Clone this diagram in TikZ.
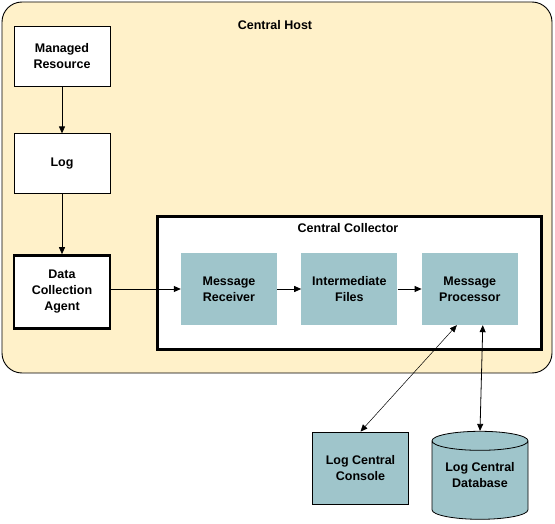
\documentclass[tikz,border=0pt]{standalone}
\usepackage{fontspec}
\setmainfont{Liberation Sans}
\usetikzlibrary{positioning,arrows.meta,shapes.geometric}
\definecolor{hostcol}{RGB}{255,241,201}
\definecolor{proccol}{RGB}{159,197,203}

\begin{document}
\begin{tikzpicture}[x=1pt, y=1pt,
  every node/.style={font=\bfseries\fontsize{12.5}{16}\selectfont, align=center},
  host/.style={rectangle, draw=black, fill=hostcol, rounded corners=20pt,
               minimum width=550pt, minimum height=371pt, line width=0.9pt},
  frame/.style={rectangle, draw=black, fill=white, line width=3pt,
                minimum width=384pt, minimum height=132pt},
  plain/.style={rectangle, draw=black, fill=white, line width=0.8pt,
                minimum width=96pt, minimum height=60pt},
  agent/.style={plain, line width=2.6pt, minimum height=73pt},
  proc/.style={rectangle, fill=proccol, minimum width=96pt, minimum height=72pt},
  outproc/.style={proc, draw=black, line width=0.8pt},
  store/.style={cylinder, shape border rotate=90, aspect=0.25, draw=black,
                fill=proccol, line width=0.8pt, minimum width=96pt, minimum height=88pt},
  ea/.style={-{Triangle[length=7pt,width=6pt]}, line width=0.8pt},
  eb/.style={{Triangle[length=7pt,width=6pt]}-{Triangle[length=7pt,width=6pt]}, line width=#1},
  eb/.default=0.8pt
]
\useasboundingbox (0,0) rectangle (555,-524);

% containers
\node[host] (host) at (277,-187.5) {};
\node[anchor=center] (hostlbl) at (275,-25) {Central Host};
\node[frame] (coll) at (349,-283) {};
\node (colllbl) at (348,-228) {Central Collector};

% left column
\node[plain] (res) at (62,-56) {Managed\\Resource};
\node[plain, below=47pt of res] (log) {Log};
\node[agent, below=60pt of log] (agent) {Data\\Collection\\Agent};

% collector boxes
\node[proc] (recv) at (229,-289) {Message\\Receiver};
\node[proc, right=24pt of recv] (files) {Intermediate\\Files};
\node[proc, right=24pt of files] (msgproc) {Message\\Processor};

% outside
\node[outproc] (console) at (360.5,-468) {Log Central\\Console};
\node[store] (db) at (480,-482)
  {\raisebox{6pt}[\height][\depth]{\begin{tabular}{@{}c@{}}Log Central\\Database\end{tabular}}};

\draw[ea] (res)--(log);
\draw[ea] (log)--(agent);
\draw[ea] (agent.east |- recv)--(recv);
\draw[ea] (recv)--(files);
\draw[ea] (files)--(msgproc);
\draw[eb=0.5pt] (console.north)--([xshift=-13pt]msgproc.south);
\draw[eb] (db.north)--([xshift=13pt]msgproc.south);
\end{tikzpicture}
\end{document}
